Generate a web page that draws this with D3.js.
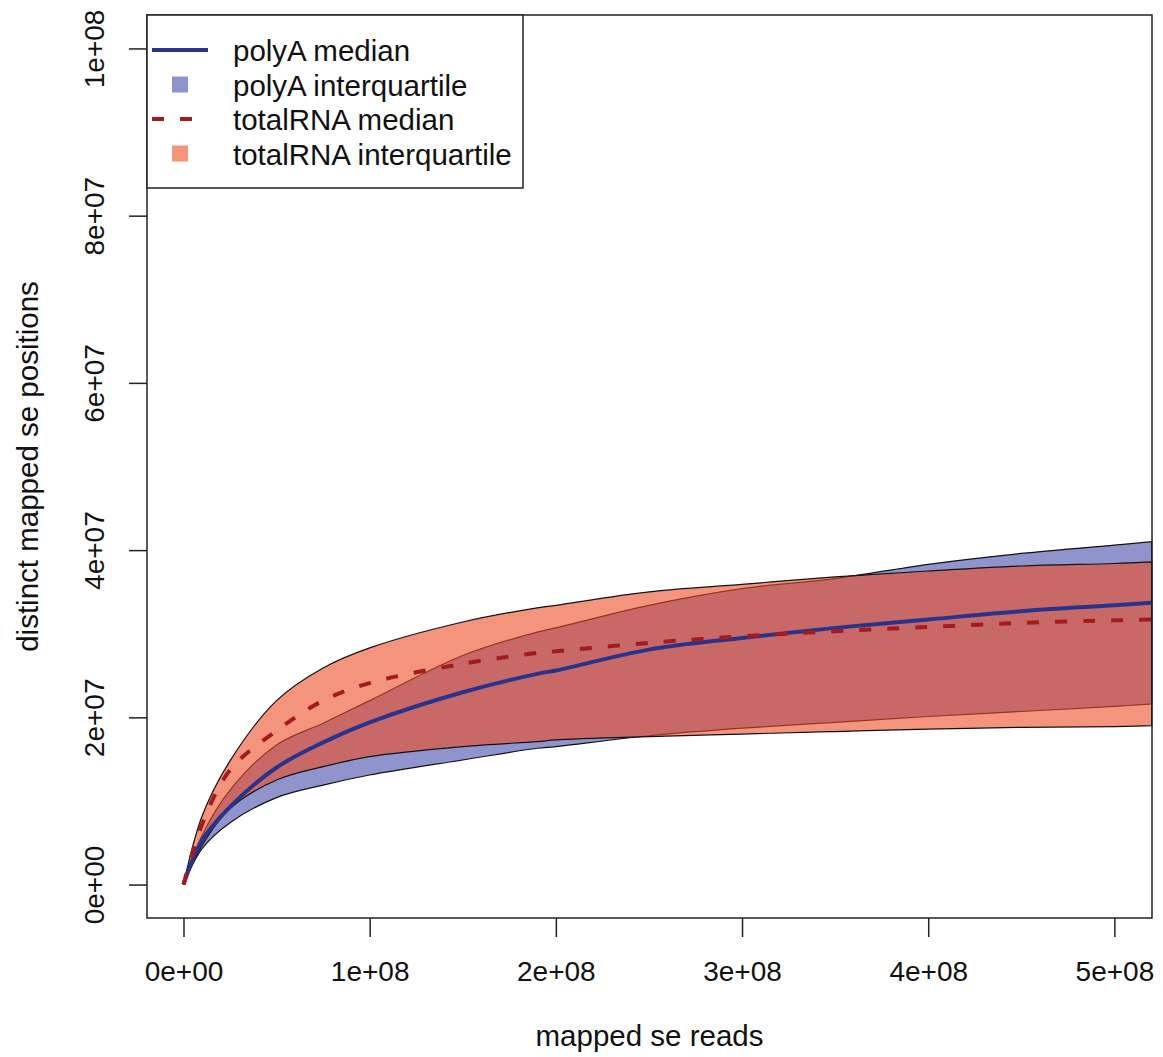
<!DOCTYPE html>
<html>
<head>
<meta charset="utf-8">
<script src="https://cdn.jsdelivr.net/npm/d3@7"></script>
<style>
    body { margin: 0; background: #fff; }
    text { font-family: "Liberation Sans", Arial, sans-serif; fill: #111; }
</style>
</head>
<body>
<div id="chart"></div>
<script>
// values in millions
let reads    = [0, 10, 25, 50, 75, 100, 150, 190, 200, 250, 300, 350, 400, 450, 500, 520];
let polyAMed = [0, 5.3, 9.3, 14.0, 17.0, 19.4, 23.0, 25.2, 25.6, 28.1, 29.5, 30.7, 31.7, 32.7, 33.4, 33.7];
let polyAQ1  = [0, 4.3, 7.4, 10.4, 11.9, 13.1, 14.9, 16.3, 16.5, 17.8, 18.7, 19.4, 20.1, 20.7, 21.3, 21.6];
let polyAQ3  = [0, 5.9, 11.3, 16.7, 19.3, 22.0, 27.4, 30.2, 30.7, 33.4, 35.4, 36.6, 38.3, 39.6, 40.6, 41.0];
let totalMed = [0, 7.2, 13.7, 18.4, 22.0, 24.1, 26.4, 27.7, 27.9, 28.9, 29.7, 30.3, 30.8, 31.3, 31.6, 31.7];
let totalQ1  = [0, 4.7, 9.1, 12.5, 14.1, 15.3, 16.5, 17.1, 17.3, 17.7, 18.0, 18.3, 18.6, 18.8, 18.9, 19.0];
let totalQ3  = [0, 8.2, 14.8, 22.0, 25.9, 28.3, 31.4, 33.1, 33.4, 35.0, 35.9, 36.8, 37.5, 38.1, 38.4, 38.6];

let xTicks = [0, 1e8, 2e8, 3e8, 4e8, 5e8];
let yTicks = [0, 2e7, 4e7, 6e7, 8e7, 1e8];
let xTickLabels = ["0e+00", "1e+08", "2e+08", "3e+08", "4e+08", "5e+08"];
let yTickLabels = ["0e+00", "2e+07", "4e+07", "6e+07", "8e+07", "1e+08"];

let legendLabels = ["polyA median", "polyA interquartile", "totalRNA median", "totalRNA interquartile"];

let width = 1163;
let height = 1057;
let plotLeft = 147, plotRight = 1152, plotTop = 15, plotBottom = 918;

let polyFill = "#8f95cc";
let totalFill = "#ef4c25";
let totalOpacity = 0.6;
let polyLine = "#2a338c";
let totalLine = "#a11b1f";

let svg = d3.select("#chart").append("svg")
    .attr("width", width)
    .attr("height", height);

let x = d3.scaleLinear().domain([-0.196e8, 5.202e8]).range([plotLeft, plotRight]);
let y = d3.scaleLinear().domain([-0.4e7, 10.4e7]).range([plotBottom, plotTop]);

let rows = reads.map((r, i) => ({
    x: r * 1e6,
    pMed: polyAMed[i] * 1e6, pLo: polyAQ1[i] * 1e6, pHi: polyAQ3[i] * 1e6,
    tMed: totalMed[i] * 1e6, tLo: totalQ1[i] * 1e6, tHi: totalQ3[i] * 1e6
}));

let curve = d3.curveCatmullRom.alpha(0.5);

let polyArea = d3.area().curve(curve)
    .x(d => x(d.x)).y0(d => y(d.pLo)).y1(d => y(d.pHi));
let totalArea = d3.area().curve(curve)
    .x(d => x(d.x)).y0(d => y(d.tLo)).y1(d => y(d.tHi));

// bands: polyA underneath, totalRNA see-through on top
svg.append("path")
    .datum(rows)
    .attr("d", d => polyArea(d))
    .attr("fill", polyFill)
    .attr("stroke", "#111")
    .attr("stroke-width", 1.2);

svg.append("path")
    .datum(rows)
    .attr("d", d => totalArea(d))
    .attr("fill", totalFill)
    .attr("fill-opacity", totalOpacity)
    .attr("stroke", "#111")
    .attr("stroke-width", 1.2);

let polyMedLine = d3.line().curve(curve).x(d => x(d.x)).y(d => y(d.pMed));
let totalMedLine = d3.line().curve(curve).x(d => x(d.x)).y(d => y(d.tMed));

svg.append("path")
    .datum(rows)
    .attr("d", polyMedLine)
    .attr("fill", "none")
    .attr("stroke", polyLine)
    .attr("stroke-width", 4);

svg.append("path")
    .datum(rows)
    .attr("d", totalMedLine)
    .attr("fill", "none")
    .attr("stroke", totalLine)
    .attr("stroke-width", 4)
    .attr("stroke-dasharray", "12,16");

// frame
svg.append("rect")
    .attr("x", plotLeft).attr("y", plotTop)
    .attr("width", plotRight - plotLeft).attr("height", plotBottom - plotTop)
    .attr("fill", "none")
    .attr("stroke", "#222")
    .attr("stroke-width", 1.5);

// axes
let xAxis = d3.axisBottom(x)
    .tickValues(xTicks)
    .tickFormat((d, i) => xTickLabels[i])
    .tickSize(19)
    .tickPadding(24);

let xg = svg.append("g")
    .attr("transform", "translate(0," + plotBottom + ")")
    .call(xAxis);
xg.select(".domain").remove();
xg.selectAll("line").attr("stroke", "#222").attr("stroke-width", 1.5);
xg.selectAll("text")
    .style("font-size", "28px")
    .style("font-family", "'Liberation Sans', Arial, sans-serif")
    .attr("fill", "#111");

let yAxis = d3.axisLeft(y)
    .tickValues(yTicks)
    .tickFormat((d, i) => yTickLabels[i])
    .tickSize(18);

let yg = svg.append("g")
    .attr("transform", "translate(" + plotLeft + ",0)")
    .call(yAxis);
yg.select(".domain").remove();
yg.selectAll("line").attr("stroke", "#222").attr("stroke-width", 1.5);
yg.selectAll("text")
    .attr("x", null).attr("dy", null)
    .attr("transform", "translate(-43,0) rotate(-90)")
    .attr("text-anchor", "middle")
    .style("font-size", "28px")
    .style("font-family", "'Liberation Sans', Arial, sans-serif")
    .attr("fill", "#111");

// axis titles
svg.append("text")
    .attr("x", (plotLeft + plotRight) / 2)
    .attr("y", 1046)
    .attr("text-anchor", "middle")
    .style("font-size", "29.5px")
    .text("mapped se reads");

svg.append("text")
    .attr("transform", "translate(38," + (plotTop + plotBottom) / 2 + ") rotate(-90)")
    .attr("text-anchor", "middle")
    .style("font-size", "29.5px")
    .text("distinct mapped se positions");

// legend
let legend = svg.append("g").attr("id", "legend");

legend.append("rect")
    .attr("x", plotLeft).attr("y", plotTop)
    .attr("width", 523 - plotLeft).attr("height", 188 - plotTop)
    .attr("fill", "#fff")
    .attr("stroke", "#222")
    .attr("stroke-width", 1.5);

let rowY = i => 50 + i * 34.5;

legend.append("line")
    .attr("x1", 152).attr("x2", 208)
    .attr("y1", rowY(0)).attr("y2", rowY(0))
    .attr("stroke", polyLine).attr("stroke-width", 4);

legend.append("rect")
    .attr("x", 172).attr("y", rowY(1) - 8)
    .attr("width", 16).attr("height", 16)
    .attr("fill", polyFill);

legend.append("line")
    .attr("x1", 152).attr("x2", 208)
    .attr("y1", rowY(2)).attr("y2", rowY(2))
    .attr("stroke", totalLine).attr("stroke-width", 4)
    .attr("stroke-dasharray", "12,16");

legend.append("rect")
    .attr("x", 172).attr("y", rowY(3) - 8)
    .attr("width", 16).attr("height", 16)
    .attr("fill", totalFill)
    .attr("fill-opacity", totalOpacity);

legend.selectAll("text.lab")
    .data(legendLabels)
    .enter().append("text")
    .attr("class", "lab")
    .attr("x", 233)
    .attr("y", (d, i) => rowY(i) + 11)
    .style("font-size", "29.5px")
    .text(d => d);
</script>
</body>
</html>
